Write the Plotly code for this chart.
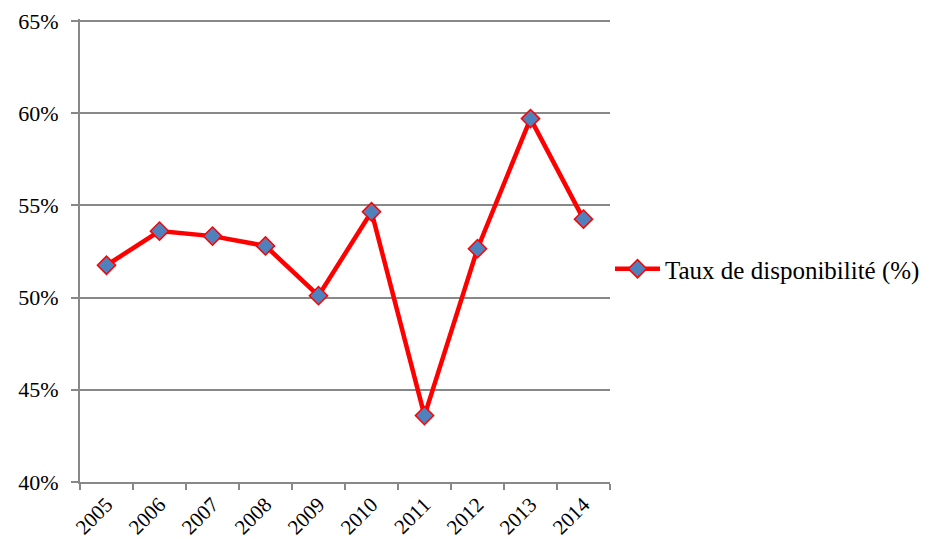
import plotly.graph_objects as go

years = ["2005", "2006", "2007", "2008", "2009", "2010", "2011", "2012", "2013", "2014"]
taux = [0.5175, 0.536, 0.5333, 0.528, 0.501, 0.5465, 0.436, 0.5265, 0.597, 0.5425]
y_ticks = [0.40, 0.45, 0.50, 0.55, 0.60, 0.65]

fig = go.Figure()
fig.add_trace(go.Scatter(
    x=years, y=taux,
    mode="lines+markers",
    name="Taux de disponibilité (%)",
    line=dict(color="#FF0000", width=4.5),
    marker=dict(symbol="diamond", size=14, color="#4F81BD",
                line=dict(color="#FF0000", width=1.5)),
))

font_family = "Liberation Serif"
# page body has an 8px margin, so the figure is a bit smaller than the window
fig.update_layout(
    width=921, height=531,
    margin=dict(l=72, r=319, t=11, b=57, autoexpand=False),
    paper_bgcolor="white", plot_bgcolor="white",
    font=dict(family=font_family, color="#000000", size=20),
    showlegend=True,
    legend=dict(x=1.0, xanchor="left", y=0.46, yanchor="middle",
                itemwidth=45,
                font=dict(size=25, family=font_family), bgcolor="rgba(0,0,0,0)"),
    xaxis=dict(
        type="category", tickson="boundaries",
        ticks="outside", ticklen=6, tickcolor="#888888", tickwidth=2,
        showline=True, linecolor="#888888", linewidth=2,
        showgrid=False, tickangle=-45, automargin=False,
        tickfont=dict(size=21, family=font_family),
        range=[-0.5, 9.5],
    ),
    yaxis=dict(
        # small headroom so the 65% grid line is not dropped at the edge
        range=[0.40, 0.651], tickvals=y_ticks, tickformat=".0%",
        ticks="outside", ticklen=7, tickcolor="#888888", tickwidth=2,
        showline=True, linecolor="#888888", linewidth=2,
        showgrid=True, gridcolor="#888888", gridwidth=2,
        zeroline=False, automargin=False, ticklabelstandoff=8,
        ticklabeloverflow="allow",
        tickfont=dict(size=22, family=font_family),
    ),
)

fig.write_html("out.html")
